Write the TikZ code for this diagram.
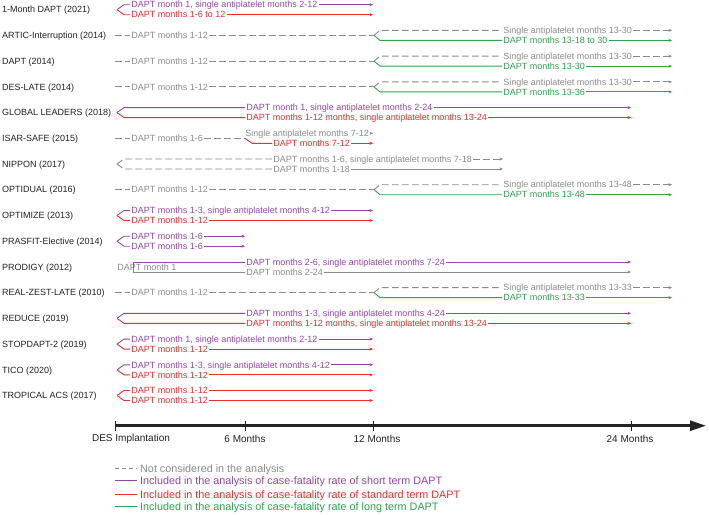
\documentclass[tikz,border=0pt]{standalone}
\usepackage{fontspec}
\setmainfont{Liberation Sans}
\usetikzlibrary{arrows.meta}
\definecolor{purp}{RGB}{150,70,170}
\definecolor{redc}{RGB}{235,45,45}
\definecolor{grnc}{RGB}{45,165,75}
\definecolor{grayc}{RGB}{140,140,140}
\definecolor{lblc}{RGB}{35,35,35}

% #1 id, #2 y, #3 text x, #4 end x, #5 colour top, #6 text top, #7 colour bottom, #8 text bottom
\newcommand{\pairrow}[8]{%
  \node[segtxt,text=#5] (#1t) at (#3,#2-5) {#6};
  \node[segtxt,text=#7] (#1b) at (#3,#2+5) {#8};
  \coordinate (#1k) at (117,#2);
  \draw[ln,#5] (#1k) -- (124,#2-5) -- (#1t.west);
  \draw[ln,#5,endtip] (#1t.east) -- (#4,#2-5);
  \draw[ln,#7] (#1k) -- (124,#2+5) -- (#1b.west);
  \draw[ln,#7,endtip] (#1b.east) -- (#4,#2+5);
}
% #1 id, #2 y, #3 top text, #4 bottom text
\newcommand{\longrow}[4]{%
  \node[segtxt,text=grayc] (#1a) at (130,#2) {DAPT months 1-12};
  \coordinate (#1s) at (115,#2);
  \coordinate (#1k) at (374,#2);
  \draw[dsh] (#1s) -- (#1a.west);
  \draw[dsh] (#1a.east) -- (#1k);
  \node[segtxt,text=grayc] (#1t) at (502,#2-5) {#3};
  \node[segtxt,text=grnc] (#1b) at (502,#2+5) {#4};
  \draw[dsh] (#1k) -- (380,#2-5) -- (#1t.west);
  \draw[dsh,endtip] (#1t.east) -- (672,#2-5);
  \draw[ln,grnc] (#1k) -- (380,#2+5) -- (#1b.west);
  \draw[ln,grnc,endtip] (#1b.east) -- (672,#2+5);
}

\begin{document}
\begin{tikzpicture}[x=1pt,y=-1pt,
  lbl/.style={anchor=west,font=\fontsize{9}{10}\selectfont,text=lblc,inner sep=0pt,text height=6.4pt,text depth=0pt},
  segtxt/.style={anchor=west,font=\fontsize{9}{10}\selectfont,inner sep=1.2pt,text height=6.4pt,text depth=0pt},
  axtxt/.style={font=\fontsize{10}{11}\selectfont,text=lblc,inner sep=0pt},
  legtxt/.style={anchor=west,font=\fontsize{10.8}{12}\selectfont,inner sep=0pt,text height=7.6pt,text depth=0pt},
  ln/.style={line width=0.9pt},
  dsh/.style={line width=0.9pt,grayc,dash pattern=on 6.5pt off 3.5pt},
  endtip/.style={-{Stealth[length=3.5pt,width=3pt]}},
]
\path[use as bounding box,fill=white] (0,0) rectangle (709,514);

% row labels
\node[lbl] (l0) at (2,9.7) {1-Month DAPT (2021)};
\node[lbl] (l1) at (2,35.4) {ARTIC-Interruption (2014)};
\node[lbl] (l2) at (2,61.1) {DAPT (2014)};
\node[lbl] (l3) at (2,86.9) {DES-LATE (2014)};
\node[lbl] (l4) at (2,112.6) {GLOBAL LEADERS (2018)};
\node[lbl] (l5) at (2,138.3) {ISAR-SAFE (2015)};
\node[lbl] (l6) at (2,164.0) {NIPPON (2017)};
\node[lbl] (l7) at (2,189.7) {OPTIDUAL (2016)};
\node[lbl] (l8) at (2,215.5) {OPTIMIZE (2013)};
\node[lbl] (l9) at (2,241.2) {PRASFIT-Elective (2014)};
\node[lbl] (l10) at (2,266.9) {PRODIGY (2012)};
\node[lbl] (l11) at (2,292.6) {REAL-ZEST-LATE (2010)};
\node[lbl] (l12) at (2,318.3) {REDUCE (2019)};
\node[lbl] (l13) at (2,344.1) {STOPDAPT-2 (2019)};
\node[lbl] (l14) at (2,369.8) {TICO (2020)};
\node[lbl] (l15) at (2,395.5) {TROPICAL ACS (2017)};

% rows
\pairrow{r0}{9.7}{130}{373}{purp}{DAPT month 1, single antiplatelet months 2-12}{redc}{DAPT months 1-6 to 12}
\longrow{r1}{35.4}{Single antiplatelet months 13-30}{DAPT months 13-18 to 30}
\longrow{r2}{61.1}{Single antiplatelet months 13-30}{DAPT months 13-30}
\longrow{r3}{86.9}{Single antiplatelet months 13-30}{DAPT months 13-36}
\pairrow{r4}{112.6}{245}{631}{purp}{DAPT month 1, single antiplatelet months 2-24}{redc}{DAPT months 1-12 months, single antiplatelet months 13-24}

% ISAR-SAFE
\node[segtxt,text=grayc] (r5a) at (130,138.3) {DAPT months 1-6};
\coordinate (r5s) at (115,138.3);
\coordinate (r5k) at (245,138.3);
\draw[dsh] (r5s) -- (r5a.west);
\draw[dsh] (r5a.east) -- (r5k);
\node[segtxt,text=grayc] (r5t) at (244,133.3) {Single antiplatelet months 7-12};
\node[segtxt,text=redc] (r5b) at (272,143.3) {DAPT months 7-12};
\draw[dsh,endtip] (r5t.east) -- (373,133.3);
\draw[ln,redc] (r5k) -- (252,143.3) -- (r5b.west);
\draw[ln,redc,endtip] (r5b.east) -- (373,143.3);

% NIPPON
\node[segtxt,text=grayc] (r6t) at (272,159) {DAPT months 1-6, single antiplatelet months 7-18};
\node[segtxt,text=grayc] (r6b) at (272,169) {DAPT months 1-18};
\coordinate (r6k) at (117,164);
\draw[dsh] (r6k) -- (124,159) -- (r6t.west);
\draw[dsh,endtip] (r6t.east) -- (503,159);
\draw[dsh] (r6k) -- (124,169) -- (r6b.west);
\draw[ln,grayc,endtip] (r6b.east) -- (503,169);

\longrow{r7}{189.7}{Single antiplatelet months 13-48}{DAPT months 13-48}
\pairrow{r8}{215.5}{130}{373}{purp}{DAPT months 1-3, single antiplatelet months 4-12}{redc}{DAPT months 1-12}
\pairrow{r9}{241.2}{130}{245}{purp}{DAPT months 1-6}{purp}{DAPT months 1-6}

% PRODIGY
\node[segtxt,text=grayc] (r10m) at (116,267.6) {DAPT month 1};
\node[segtxt,text=purp] (r10t) at (245,262) {DAPT months 2-6, single antiplatelet months 7-24};
\node[segtxt,text=grayc] (r10b) at (245,272) {DAPT months 2-24};
\coordinate (r10k) at (133,267.5);
\draw[ln,purp] (r10k) |- (r10t.west);
\draw[ln,purp,endtip] (r10t.east) -- (631,262);
\draw[ln,grayc] (r10k) |- (r10b.west);
\draw[ln,grayc,endtip] (r10b.east) -- (631,272);

\longrow{r11}{292.6}{Single antiplatelet months 13-33}{DAPT months 13-33}
\pairrow{r12}{318.3}{245}{631}{purp}{DAPT months 1-3, single antiplatelet months 4-24}{redc}{DAPT months 1-12 months, single antiplatelet months 13-24}
\pairrow{r13}{344.1}{130}{373}{purp}{DAPT month 1, single antiplatelet months 2-12}{redc}{DAPT months 1-12}
\pairrow{r14}{369.8}{130}{373}{purp}{DAPT months 1-3, single antiplatelet months 4-12}{redc}{DAPT months 1-12}
\pairrow{r15}{395.5}{130}{373}{redc}{DAPT months 1-12}{redc}{DAPT months 1-12}

% axis
\coordinate (ax0) at (115,425.7);
\coordinate (axe) at (706,425.7);
\draw[line width=2.6pt,lblc,-{Triangle[length=16pt,width=10pt]}] (ax0) -- (axe);
\foreach \xx/\nm in {115/t0,245/t6,373/t12,631/t24}{
  \coordinate (\nm a) at (\xx,421);
  \coordinate (\nm b) at (\xx,430.5);
  \draw[line width=1pt,lblc] (\nm a) -- (\nm b);
}
\node[axtxt] (axl0) at (131,438.5) {DES Implantation};
\node[axtxt] (axl6) at (245,438.5) {6 Months};
\node[axtxt] (axl12) at (377,438.5) {12 Months};
\node[axtxt] (axl24) at (630,438.5) {24 Months};

% legend
\node[legtxt,text=grayc] (lg1) at (140,468.3) {Not considered in the analysis};
\node[legtxt,text=purp] (lg2) at (140,480.7) {Included in the analysis of case-fatality rate of short term DAPT};
\node[legtxt,text=redc] (lg3) at (140,494.3) {Included in the analysis of case-fatality rate of standard term DAPT};
\node[legtxt,text=grnc] (lg4) at (140,506.7) {Included in the analysis of case-fatality rate of long term DAPT};
\coordinate (lg1s) at (115,468.3);
\coordinate (lg2s) at (115,480.7);
\coordinate (lg3s) at (115,494.3);
\coordinate (lg4s) at (115,506.7);
\draw[line width=0.9pt,grayc,dash pattern=on 4pt off 3pt] (lg1s) -- ([xshift=-3pt]lg1.west);
\draw[ln,purp] (lg2s) -- ([xshift=-3pt]lg2.west);
\draw[ln,redc] (lg3s) -- ([xshift=-3pt]lg3.west);
\draw[ln,grnc] (lg4s) -- ([xshift=-3pt]lg4.west);
\end{tikzpicture}
\end{document}
